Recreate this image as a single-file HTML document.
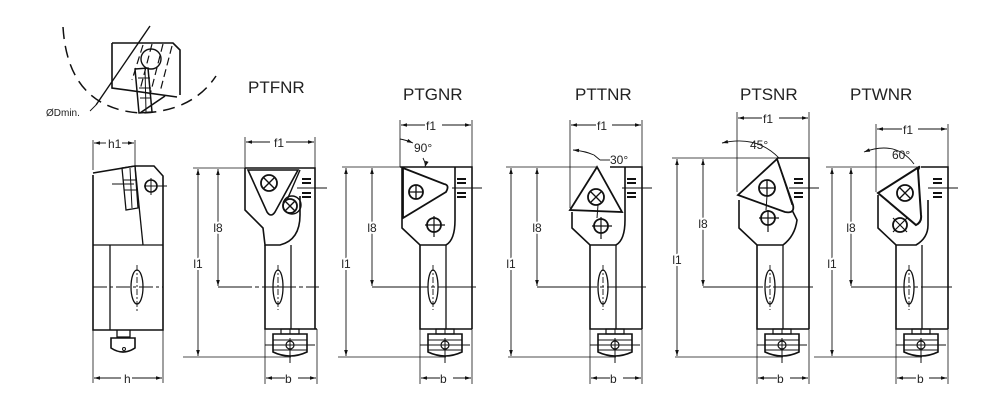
<!DOCTYPE html>
<html><head><meta charset="utf-8"><style>
html,body{margin:0;padding:0;background:#fff;}
svg{display:block;}
text{font-family:"Liberation Sans",sans-serif;fill:#222;}
</style></head><body>
<svg width="1000" height="410" viewBox="0 0 1000 410" xmlns="http://www.w3.org/2000/svg">
<defs>
<marker id="a" viewBox="0 0 10 6" refX="10" refY="3" markerWidth="8" markerHeight="4" orient="auto-start-reverse"><path d="M0,0 L10,3 L0,6 Z" fill="#111"/></marker>
<g id="common" fill="none" stroke="#111">
  <path d="M20,245 L20,329 L72,329" stroke-width="1.6"/>
  <line x1="46" y1="245" x2="46" y2="329" stroke-width="1.3"/>
  <ellipse cx="33" cy="287" rx="5" ry="17" stroke-width="1.3"/>
  <line x1="33" y1="265" x2="33" y2="310" stroke-width="0.9" stroke-dasharray="6,2,2,2"/>
  <rect x="36" y="329" width="18" height="5" stroke-width="1.2"/>
  <line x1="45" y1="329" x2="45" y2="334" stroke-width="1"/>
  <path d="M28,334 L62,334 L62,352 Q45,360 28,352 Z" stroke-width="1.6"/>
  <line x1="28" y1="340" x2="62" y2="340" stroke-width="1"/>
  <line x1="28" y1="350" x2="62" y2="350" stroke-width="1"/>
  <line x1="20" y1="345" x2="70" y2="345" stroke-width="1"/>
  <circle cx="45" cy="345" r="4" stroke-width="1.2"/>
  <line x1="45" y1="338" x2="45" y2="363" stroke-width="1"/>
  <path d="M57,179 L66,179 M57,183 L66,183 M57,193 L66,193 M57,197 L66,197" stroke-width="2"/>
  <line x1="52" y1="188" x2="82" y2="188" stroke-width="1"/>
  <line x1="20" y1="329" x2="20" y2="384" stroke-width="0.8"/>
  <line x1="72" y1="329" x2="72" y2="384" stroke-width="0.8"/>
  <line x1="21" y1="378" x2="40" y2="378" stroke-width="0.9" marker-start="url(#a)"/>
  <line x1="53" y1="378" x2="71" y2="378" stroke-width="0.9" marker-end="url(#a)"/>
  <line x1="-62" y1="357" x2="46" y2="357" stroke-width="0.8"/>
</g>
</defs>
<g fill="none" stroke="#111">
<path d="M63,27 Q68,108 140,113 Q192,112 216,76" stroke-width="1.5" stroke-dasharray="12,7"/>
<path d="M112,43 L173,43 L180,50 L180,95 M112,43 L112,88 L177,97 M165,96 L140,113" stroke-width="1.6"/>
<path d="M135,69 L148,68 L152,112 L139,113 Z" stroke-width="1.5"/>
<path d="M138,78 L150,78 M139,88 L151,88 M140,98 L151,98 M145,68 L146,112" stroke-width="1"/>
<circle cx="151" cy="59" r="10" stroke-width="1.4"/>
<line x1="150" y1="26" x2="96" y2="105" stroke-width="1.4"/>
<path d="M143,45 L132,80 M152,44 L140,90 M163,44 L150,95 M172,46 L160,92" stroke-width="1.2" stroke-dasharray="8,4"/>
<line x1="96" y1="105" x2="90" y2="111" stroke-width="0.9"/>
</g>
<text x="46" y="116" font-size="10">ØDmin.</text>

<g fill="none" stroke="#111">
<path d="M93,175 L93,330 L163,330 L163,176 L154,166 L135,166 L93,173" stroke-width="1.6"/>
<line x1="93" y1="245" x2="163" y2="245" stroke-width="1.3"/>
<line x1="110" y1="245" x2="110" y2="330" stroke-width="1.3"/>
<line x1="135" y1="166" x2="143" y2="245" stroke-width="1.3"/>
<path d="M122,168 L135,166 L138,208 L126,210 Z" stroke-width="1.3"/>
<path d="M123,180 L136,180 M124,190 L137,190 M130,168 L132,208" stroke-width="1"/>
<line x1="112" y1="184" x2="134" y2="184" stroke-width="1"/>
<circle cx="151" cy="186" r="6" stroke-width="1.6"/>
<line x1="144" y1="186" x2="167" y2="186" stroke-width="1"/><line x1="151" y1="178" x2="151" y2="195" stroke-width="1"/>
<line x1="93" y1="287" x2="163" y2="287" stroke-width="1" stroke-dasharray="14,3,3,3"/>
<ellipse cx="137" cy="287" rx="6" ry="17" stroke-width="1.3"/>
<line x1="137" y1="265" x2="137" y2="312" stroke-width="0.9" stroke-dasharray="6,2,2,2"/>
<path d="M117,330 L117,337 L130,337 L130,330" stroke-width="1.3"/>
<path d="M111,338 L135,338 L135,348 Q123,356 111,348 Z" stroke-width="1.6"/>
<circle cx="124" cy="349" r="1.5" stroke-width="1"/>
<line x1="93" y1="140" x2="93" y2="170" stroke-width="0.8"/><line x1="135" y1="140" x2="135" y2="166" stroke-width="0.8"/>
<line x1="94" y1="143" x2="106" y2="143" stroke-width="0.9" marker-start="url(#a)"/><line x1="122" y1="143" x2="134" y2="143" stroke-width="0.9" marker-end="url(#a)"/>
<line x1="93" y1="330" x2="93" y2="383" stroke-width="0.8"/><line x1="163" y1="330" x2="163" y2="383" stroke-width="0.8"/>
<line x1="94" y1="378" x2="121" y2="378" stroke-width="0.9" marker-start="url(#a)"/><line x1="132" y1="378" x2="162" y2="378" stroke-width="0.9" marker-end="url(#a)"/>
</g>
<text x="108" y="148" font-size="12">h1</text>
<text x="124" y="383" font-size="12">h</text>

<g transform="translate(245,0)" fill="none" stroke="#111">
<use href="#common"/>
<path d="M0,168 L70,168 L70,329" stroke-width="1.6"/>
<path d="M0,168 L0,210 L18,228 L20,245 L35,245 Q55,240 55,215 L55,196" stroke-width="1.6"/>
<path d="M3,170 L53,170 L30,212 Q26,218 22,212 Z" stroke-width="1.6"/>
<line x1="55" y1="170" x2="42" y2="200" stroke-width="1.4"/>
<circle cx="24" cy="183" r="8" stroke-width="1.8"/><path d="M18,177 L30,189 M30,177 L18,189" stroke-width="1.4"/>
<circle cx="47" cy="205" r="9" stroke-width="1.4"/><circle cx="45" cy="206" r="7" stroke-width="1.8"/><path d="M40,201 L50,211 M50,201 L40,211" stroke-width="1.4"/>
<line x1="-27" y1="287" x2="74" y2="287" stroke-width="1" stroke-dasharray="34,3,4,3"/>
<line x1="-52" y1="168" x2="0" y2="168" stroke-width="0.8"/>
<line x1="-47" y1="169" x2="-47" y2="356" stroke-width="0.9" marker-start="url(#a)" marker-end="url(#a)"/>
<line x1="-27" y1="169" x2="-27" y2="286" stroke-width="0.9" marker-start="url(#a)" marker-end="url(#a)"/>
<line x1="0" y1="137" x2="0" y2="168" stroke-width="0.8"/><line x1="70" y1="137" x2="70" y2="168" stroke-width="0.8"/>
<line x1="1" y1="142" x2="25" y2="142" stroke-width="0.9" marker-start="url(#a)"/><line x1="41" y1="142" x2="69" y2="142" stroke-width="0.9" marker-end="url(#a)"/>
</g>
<g transform="translate(400,0)" fill="none" stroke="#111">
<use href="#common"/>
<path d="M0,167 L72,167 L72,329" stroke-width="1.6"/>
<path d="M2,167 L2,228 L20,245 L46,245 Q55,240 55,220 L55,167" stroke-width="1.6"/>
<path d="M3,168 L3,218 L46,192 Q50,185 44,184 Z" stroke-width="1.8"/>
<circle cx="16" cy="192" r="7" stroke-width="1.8"/><path d="M9,192 L23,192 M16,185 L16,199" stroke-width="1.3"/>
<circle cx="34" cy="225" r="7" stroke-width="1.8"/><path d="M25,225 L45,225 M34,216 L34,237" stroke-width="1.2"/>
<line x1="-28" y1="287" x2="76" y2="287" stroke-width="1" stroke-dasharray="56,3,4,3"/>
<line x1="-58" y1="167" x2="0" y2="167" stroke-width="0.8"/>
<line x1="-54" y1="168" x2="-54" y2="356" stroke-width="0.9" marker-start="url(#a)" marker-end="url(#a)"/>
<line x1="-28" y1="168" x2="-28" y2="286" stroke-width="0.9" marker-start="url(#a)" marker-end="url(#a)"/>
<line x1="0" y1="120" x2="0" y2="167" stroke-width="0.8"/><line x1="72" y1="120" x2="72" y2="167" stroke-width="0.8"/>
<line x1="1" y1="125" x2="25" y2="125" stroke-width="0.9" marker-start="url(#a)"/><line x1="42" y1="125" x2="71" y2="125" stroke-width="0.9" marker-end="url(#a)"/>
<path d="M0,139 Q6,140 13,143" stroke-width="0.9" marker-end="url(#a)"/>
<path d="M23,158 Q26,164 25,167" stroke-width="0.9" marker-end="url(#a)"/>
</g>
<g transform="translate(570,0)" fill="none" stroke="#111">
<use href="#common"/>
<path d="M40,167 L72,167 L72,329" stroke-width="1.6"/>
<path d="M2,212 L2,228 L20,245 L46,245 Q55,240 55,220 L55,167" stroke-width="1.6"/>
<path d="M27,167 L0,210 L52,212 Z" stroke-width="1.8"/>
<circle cx="26" cy="197" r="8" stroke-width="1.8"/><path d="M20,191 L32,203 M32,191 L20,203" stroke-width="1.3"/>
<line x1="28" y1="205" x2="27" y2="218" stroke-width="1"/>
<circle cx="31" cy="226" r="7" stroke-width="1.8"/><path d="M22,226 L42,226 M31,217 L31,239" stroke-width="1.2"/>
<line x1="-33" y1="287" x2="76" y2="287" stroke-width="1" stroke-dasharray="60,3,4,3"/>
<line x1="-64" y1="167" x2="27" y2="167" stroke-width="0.8"/>
<line x1="-59" y1="168" x2="-59" y2="356" stroke-width="0.9" marker-start="url(#a)" marker-end="url(#a)"/>
<line x1="-33" y1="168" x2="-33" y2="286" stroke-width="0.9" marker-start="url(#a)" marker-end="url(#a)"/>
<line x1="0" y1="120" x2="0" y2="208" stroke-width="0.8"/><line x1="72" y1="120" x2="72" y2="167" stroke-width="0.8"/>
<line x1="1" y1="125" x2="26" y2="125" stroke-width="0.9" marker-start="url(#a)"/><line x1="42" y1="125" x2="71" y2="125" stroke-width="0.9" marker-end="url(#a)"/>
<path d="M3,150 Q15,151 24,155" stroke-width="0.9" marker-start="url(#a)"/>
<line x1="24" y1="155" x2="30" y2="160" stroke-width="0.9"/><line x1="30" y1="160" x2="40" y2="160" stroke-width="0.9"/>
</g>
<g transform="translate(737,0)" fill="none" stroke="#111">
<use href="#common"/>
<path d="M40,158 L72,158 L72,329" stroke-width="1.6"/>
<path d="M2,200 L2,228 L20,245 L46,245 Q58,236 60,220 L55,210" stroke-width="1.6"/>
<path d="M40,159 L1,195 L48,212 Q58,214 56,205 Z" stroke-width="1.8"/>
<path d="M40,159 L55,205" stroke-width="1"/>
<circle cx="30" cy="188" r="8" stroke-width="1.8"/><path d="M22,188 L38,188 M30,180 L30,196" stroke-width="1.3"/>
<line x1="30" y1="196" x2="29" y2="210" stroke-width="1"/>
<circle cx="31" cy="218" r="7" stroke-width="1.8"/><path d="M22,218 L42,218 M31,210 L31,232" stroke-width="1.2"/>
<line x1="-34" y1="287" x2="76" y2="287" stroke-width="1" stroke-dasharray="60,3,4,3"/>
<line x1="-65" y1="158" x2="40" y2="158" stroke-width="0.8"/>
<line x1="-60" y1="159" x2="-60" y2="356" stroke-width="0.9" marker-start="url(#a)" marker-end="url(#a)"/>
<line x1="-34" y1="159" x2="-34" y2="286" stroke-width="0.9" marker-start="url(#a)" marker-end="url(#a)"/>
<line x1="0" y1="112" x2="0" y2="192" stroke-width="0.8"/><line x1="72" y1="112" x2="72" y2="158" stroke-width="0.8"/>
<line x1="1" y1="118" x2="25" y2="118" stroke-width="0.9" marker-start="url(#a)"/><line x1="42" y1="118" x2="71" y2="118" stroke-width="0.9" marker-end="url(#a)"/>
<path d="M-15,143 Q20,135 42,158" stroke-width="0.9" marker-start="url(#a)"/>
</g>
<g transform="translate(876,0)" fill="none" stroke="#111">
<use href="#common"/>
<path d="M45,167 L72,167 L72,329" stroke-width="1.6"/>
<path d="M2,195 L2,228 L20,245 L40,245 Q52,238 52,225 L52,200" stroke-width="1.6"/>
<path d="M43,167 L2,193 L40,225 Q46,222 45,215 L42,170 Q44,166 43,167 Z" stroke-width="2"/>
<circle cx="29" cy="193" r="8" stroke-width="1.8"/><path d="M23,187 L35,199 M35,187 L23,199" stroke-width="1.3"/>
<circle cx="24" cy="225" r="7" stroke-width="1.8"/><path d="M17,218 L31,232 M31,218 L17,232" stroke-width="1.2"/>
<line x1="-25" y1="287" x2="76" y2="287" stroke-width="1" stroke-dasharray="60,3,4,3"/>
<line x1="-50" y1="167" x2="43" y2="167" stroke-width="0.8"/>
<line x1="-44" y1="168" x2="-44" y2="356" stroke-width="0.9" marker-start="url(#a)" marker-end="url(#a)"/>
<line x1="-25" y1="168" x2="-25" y2="286" stroke-width="0.9" marker-start="url(#a)" marker-end="url(#a)"/>
<line x1="0" y1="124" x2="0" y2="192" stroke-width="0.8"/><line x1="72" y1="124" x2="72" y2="167" stroke-width="0.8"/>
<line x1="1" y1="129" x2="26" y2="129" stroke-width="0.9" marker-start="url(#a)"/><line x1="42" y1="129" x2="71" y2="129" stroke-width="0.9" marker-end="url(#a)"/>
<path d="M-12,152 Q20,140 38,164" stroke-width="0.9" marker-start="url(#a)"/>
</g>
<g font-family="Liberation Sans, sans-serif" fill="#222">
<text x="248" y="93" font-size="17">PTFNR</text>
<text x="403" y="100" font-size="17">PTGNR</text>
<text x="575" y="100" font-size="17">PTTNR</text>
<text x="740" y="100" font-size="17">PTSNR</text>
<text x="850" y="100" font-size="17">PTWNR</text>
<g font-size="12">
<text x="274" y="147">f1</text><text x="426" y="130">f1</text><text x="597" y="130">f1</text><text x="763" y="123">f1</text><text x="903" y="134">f1</text>
<text x="414" y="152">90°</text><text x="610" y="164">30°</text><text x="750" y="149">45°</text><text x="892" y="159">60°</text>
<g text-anchor="middle" stroke="#fff" stroke-width="4" paint-order="stroke">
<text x="218" y="232">l8</text><text x="372" y="232">l8</text><text x="537" y="232">l8</text><text x="703" y="228">l8</text><text x="851" y="232">l8</text>
<text x="198" y="268">l1</text><text x="346" y="268">l1</text><text x="511" y="268">l1</text><text x="677" y="264">l1</text><text x="832" y="268">l1</text>
</g>
<text x="285" y="383">b</text><text x="440" y="383">b</text><text x="610" y="383">b</text><text x="777" y="383">b</text><text x="917" y="383">b</text>
</g></g>
</svg>
</body></html>
